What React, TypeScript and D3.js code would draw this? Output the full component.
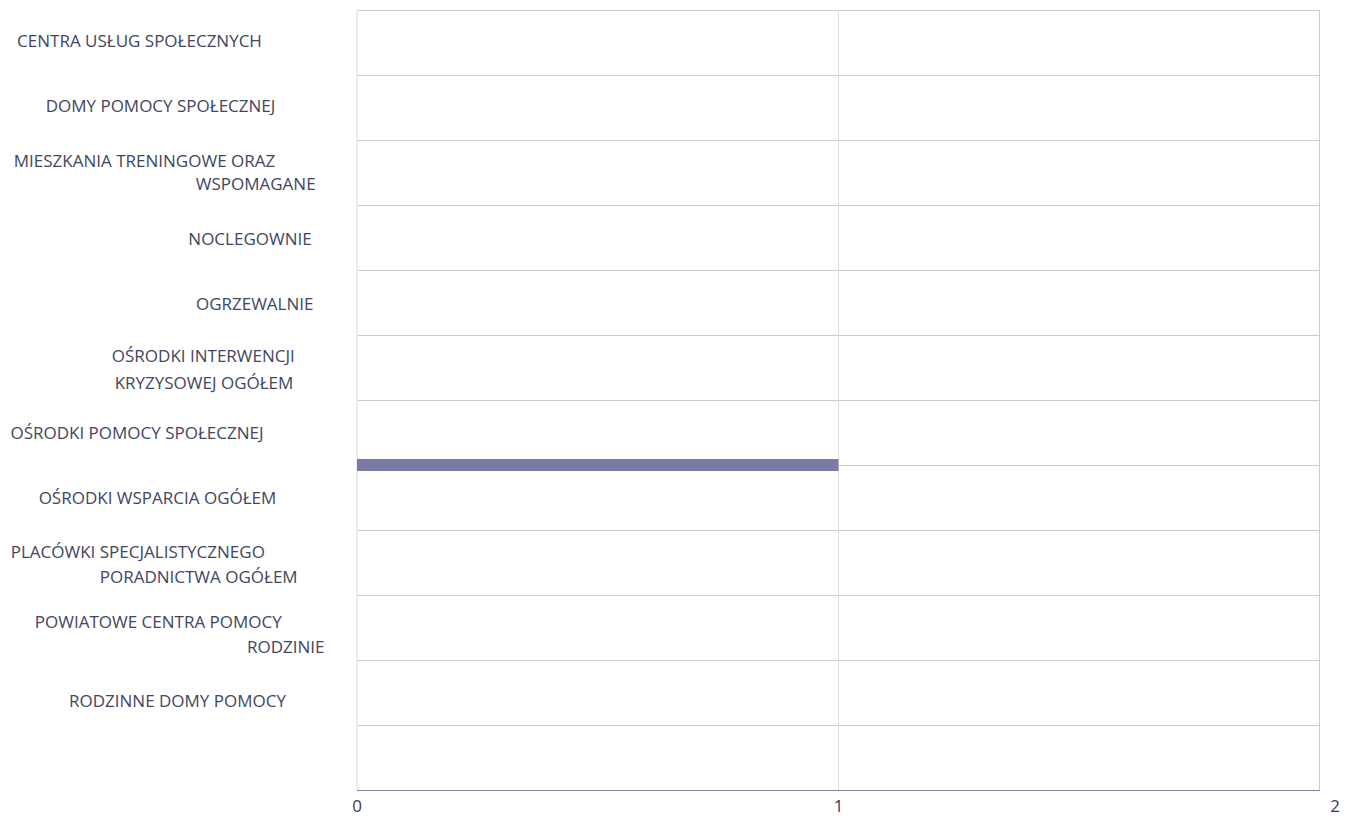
import React from "react";
import * as d3 from "d3";

const categories: string[][] = [
  ["CENTRA USŁUG SPOŁECZNYCH"],
  ["DOMY POMOCY SPOŁECZNEJ"],
  ["MIESZKANIA TRENINGOWE ORAZ", "WSPOMAGANE"],
  ["NOCLEGOWNIE"],
  ["OGRZEWALNIE"],
  ["OŚRODKI INTERWENCJI", "KRYZYSOWEJ OGÓŁEM"],
  ["OŚRODKI POMOCY SPOŁECZNEJ"],
  ["OŚRODKI WSPARCIA OGÓŁEM"],
  ["PLACÓWKI SPECJALISTYCZNEGO", "PORADNICTWA OGÓŁEM"],
  ["POWIATOWE CENTRA POMOCY", "RODZINIE"],
  ["RODZINNE DOMY POMOCY"],
  [""],
];
const categoryKeys = categories.map((c) => c.join(" "));
const barCategories = ["OŚRODKI WSPARCIA OGÓŁEM"];
const barValues = [1];
const xTicks = [0, 1, 2];

// label layout (line centers x, baseline offset from band center)
const labelLayout: { cx: number[]; dy: number[] }[] = [
  { cx: [139.5], dy: [4.5] },
  { cx: [160.5], dy: [4.2] },
  { cx: [144.5, 255.7], dy: [-5.8, 17.5] },
  { cx: [250], dy: [7] },
  { cx: [254.7], dy: [7] },
  { cx: [203.3, 204], dy: [-5.8, 21] },
  { cx: [137], dy: [6] },
  { cx: [157.5], dy: [6.5] },
  { cx: [137.8, 198.7], dy: [-4.5, 20.5] },
  { cx: [158.3, 285.7], dy: [0, 25.5] },
  { cx: [177.5], dy: [14.8] },
  { cx: [0], dy: [0] },
];

const W = 1354;
const H = 816;
const left = 357;
const right = 1320;
const top = 10;
const bottom = 790;
const font = "'Open Sans', 'Noto Sans', sans-serif";

export default function App() {
  const x = d3.scaleLinear().domain([0, 2]).range([left, right]);
  const y = d3.scaleBand<string>().domain(categoryKeys).range([top, bottom]).padding(0);
  const bw = y.bandwidth();
  const barH = 12;

  return (
    <svg width={W} height={H} style={{ position: "absolute", left: 0, top: 0, background: "#fff" }}>
      {categoryKeys.map((k) => (
        <line key={"h" + k} x1={left} x2={right} y1={Math.round(y(k)!) + 0.5} y2={Math.round(y(k)!) + 0.5} stroke="#cccccc" strokeWidth={1} />
      ))}
      {xTicks.map((t, i) => (
        <line
          key={"v" + t}
          x1={i === 0 ? x(t) : Math.round(x(t)) - 0.5}
          x2={i === 0 ? x(t) : Math.round(x(t)) - 0.5}
          y1={top}
          y2={bottom}
          stroke={i === 0 ? "#ebebeb" : i === xTicks.length - 1 ? "#cccccc" : "#dddddd"}
          strokeWidth={i === 0 ? 2 : 1}
        />
      ))}
      {barCategories.map((c, i) => (
        <rect key={"b" + c} x={x(0)} y={y(c)! - barH / 2} width={x(barValues[i]) - x(0)} height={barH} fill="#7b7ba8" />
      ))}
      <line x1={left} x2={right} y1={bottom + 0.5} y2={bottom + 0.5} stroke="#8080a8" strokeWidth={1} />
      {xTicks.map((t, i) => (
        <text
          key={"t" + t}
          x={x(t) + (i === xTicks.length - 1 ? 15 : 0)}
          y={812}
          textAnchor="middle"
          fontFamily={font}
          fontSize={17}
          fill="#3b3b4f"
        >
          {t}
        </text>
      ))}
      {categories.map((lines, i) => {
        const c = y(categoryKeys[i])! + bw / 2;
        const lay = labelLayout[i];
        return lines.map((ln, j) =>
          ln ? (
            <text
              key={"l" + i + "-" + j}
              x={lay.cx[j]}
              y={c + lay.dy[j]}
              textAnchor="middle"
              fontFamily={font}
              fontSize={17}
              fill="#43465f"
            >
              {ln}
            </text>
          ) : null
        );
      })}
    </svg>
  );
}
